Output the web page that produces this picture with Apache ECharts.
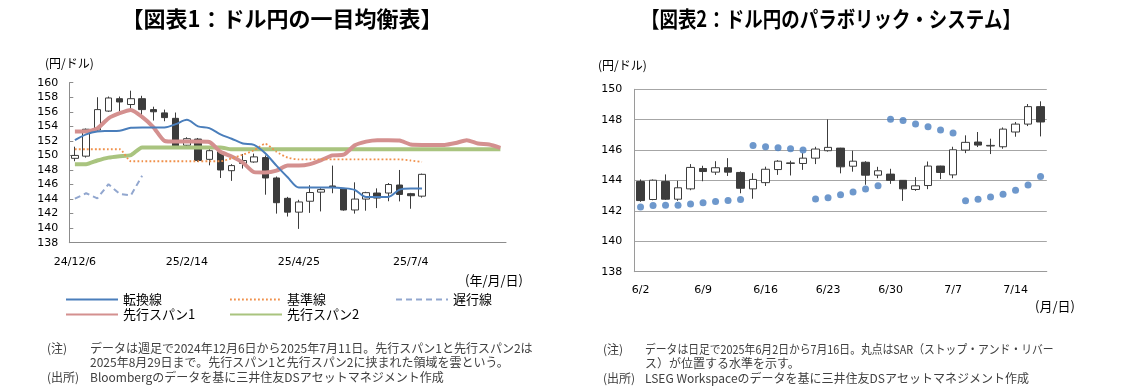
<!DOCTYPE html>
<html><head><meta charset="utf-8">
<script src="https://cdn.jsdelivr.net/npm/echarts@6/dist/echarts.min.js"></script>
<style>html,body{margin:0;padding:0;background:#fff}#c{width:1125px;height:392px}</style>
</head><body><div id="c"></div>
<script>
// ---------- Chart 1: weekly Ichimoku ----------
const weeks = ['24/12/6','24/12/13','24/12/20','24/12/27','25/1/3','25/1/10','25/1/17','25/1/24','25/1/31','25/2/7',
  '25/2/14','25/2/21','25/2/28','25/3/7','25/3/14','25/3/21','25/3/28','25/4/4','25/4/11','25/4/18',
  '25/4/25','25/5/2','25/5/9','25/5/16','25/5/23','25/5/30','25/6/6','25/6/13','25/6/20','25/6/27',
  '25/7/4','25/7/11','25/7/18','25/7/25','25/8/1','25/8/8','25/8/15','25/8/22','25/8/29'];
// [open, close, low, high]
const weeklyOHLC = [
  [149.6,150.0,149.2,151.2],[149.9,153.6,149.7,153.7],[153.5,156.3,153.3,158.0],[156.1,157.9,156.0,158.1],
  [157.8,157.35,156.1,158.1],[157.0,157.8,156.3,158.9],[157.8,156.3,155.1,158.2],[156.3,156.0,154.8,156.7],
  [155.85,155.2,154.7,156.3],[155.1,151.3,151.2,155.9],[151.4,152.3,151.2,152.5],[152.25,149.3,149.1,152.4],
  [149.46,150.65,148.64,150.93],[150.5,148.0,146.9,150.7],[147.9,148.6,146.5,148.8],[148.9,149.3,148.2,150.2],
  [149.1,149.8,149.0,150.25],[149.7,146.9,144.6,150.0],[146.9,143.5,142.0,147.1],[144.1,142.2,141.6,144.3],
  [142.2,143.6,139.9,143.9],[143.7,144.9,142.1,145.9],[144.95,145.3,142.3,145.5],[145.8,145.6,144.8,148.6],
  [145.4,142.5,142.4,145.5],[142.5,144.0,142.0,146.3],[144.0,144.88,142.4,145.0],[144.83,144.14,142.76,145.47],
  [144.83,146.0,143.7,146.2],[145.93,144.64,143.68,148.0],[144.74,144.46,142.67,144.85],[144.4,147.4,144.2,147.5]
];
const tenkan = [152.1,152.9,153.3,153.35,153.4,153.8,153.85,153.85,153.85,154.3,154.9,154.0,153.75,152.9,152.3,151.65,
  151.45,150.3,148.6,147.0,145.6,145.6,145.6,145.6,145.5,145.25,144.3,144.3,144.3,145.3,145.45,145.45];
const kijun = [150.85,150.85,150.85,150.85,150.85,149.2,149.2,149.2,149.2,149.2,149.2,149.2,149.2,149.2,149.6,150.1,
  150.7,151.6,150.5,149.7,149.45,149.45,149.45,149.45,149.45,149.45,149.45,149.45,149.45,149.45,149.3,149.1];
const chikou = [144.05,144.8,144.1,146.05,144.7,144.5,147.2];
const span1 = [153.3,153.3,153.7,155.1,155.8,156.25,155.3,153.9,152.0,151.9,151.9,151.9,151.85,150.5,149.85,149.0,
  147.7,147.65,147.9,148.6,148.6,148.8,149.35,150.0,150.1,151.4,151.9,152.1,152.1,152.05,151.5,151.45,
  151.45,151.45,151.7,152.1,151.65,151.5,151.05];
const span2 = [148.8,148.8,149.3,149.7,149.9,150.05,151.1,151.1,151.1,151.1,151.1,151.1,151.1,151.1,150.85,150.85,
  150.85,150.85,150.85,150.85,150.85,150.85,150.85,150.85,150.85,150.85,150.85,150.85,150.85,150.85,150.85,150.85,
  150.85,150.85,150.85,150.85,150.85,150.85,150.85];

// ---------- Chart 2: daily Parabolic SAR ----------
const days = ['6/2','6/3','6/4','6/5','6/6','6/9','6/10','6/11','6/12','6/13','6/16','6/17','6/18','6/19','6/20',
  '6/23','6/24','6/25','6/26','6/27','6/30','7/1','7/2','7/3','7/4','7/7','7/8','7/9','7/10','7/11','7/14','7/15','7/16'];
const dailyOHLC = [
  [143.93,142.68,142.6,144.07],[142.75,144.02,142.7,144.07],[143.93,142.77,142.72,144.4],[142.77,143.52,142.66,143.98],
  [143.45,144.86,143.36,145.08],[144.79,144.59,143.95,144.97],[144.55,144.84,144.37,145.27],[144.84,144.55,144.3,145.47],
  [144.53,143.49,143.16,144.6],[143.45,144.07,142.8,144.48],[143.86,144.74,143.64,144.91],[144.72,145.27,144.37,145.34],
  [145.12,145.16,144.33,145.3],[145.12,145.47,144.7,145.8],[145.47,146.07,145.08,146.22],[145.96,146.18,145.9,148.02],
  [146.13,144.9,144.47,146.15],[144.94,145.27,144.58,145.96],[145.2,144.35,143.72,145.27],[144.35,144.64,144.15,144.9],
  [144.42,144.01,143.78,144.77],[144.01,143.45,142.66,144.01],[143.41,143.65,143.32,144.22],[143.67,144.95,143.43,145.25],
  [144.95,144.53,144.09,144.97],[144.37,146.02,144.15,146.22],[146.0,146.51,145.8,146.97],[146.53,146.33,146.2,147.19],
  [146.27,146.31,145.74,146.75],[146.22,147.38,146.09,147.49],[147.19,147.71,146.88,147.85],[147.71,148.86,147.58,149.03],
  [148.86,147.85,146.9,149.21]
];
const sar = [142.26,142.35,142.37,142.37,142.46,142.53,142.62,142.68,142.75,146.3,146.22,146.16,146.09,146.01,
  142.78,142.86,143.06,143.24,143.44,143.66,148.03,147.95,147.72,147.53,147.33,147.13,
  142.66,142.77,142.92,143.1,143.36,143.71,144.26];

const AXF = "'DejaVu Sans', 'Noto Sans CJK JP'";
const JPF = "'Noto Sans CJK JP'";
const candleStyle = {color:'#ffffff', color0:'#3c3c3c', borderColor:'#3c3c3c', borderColor0:'#3c3c3c', borderWidth:1};

const chart = echarts.init(document.getElementById('c'), null, {renderer:'canvas'});
function txt(x, y, s, size, opts) {
  opts = opts || {};
  return {type:'text', x:x, y:y, scaleX:opts.sx||1, originX:0, originY:0,
    style:{text:s, font:(opts.bold?'bold ':'') + size + 'px ' + JPF,
    fill:opts.fill||'#000', textAlign:opts.align||'left', textVerticalAlign:'middle'}};
}
function leg(name, left, top) {
  return {data:[name], left:left, top:top, itemWidth:52, itemHeight:12,
    itemStyle:{opacity:0}, textStyle:{fontFamily:JPF, fontSize:13, color:'#000'}};
}
const option = {
  animation:false,
  grid:[
    {left:69.3, top:82.7, width:436.7, height:160},
    {left:634.3, top:89.3, width:412.5, height:182.4}
  ],
  xAxis:[
    {type:'category', gridIndex:0, data:weeks, boundaryGap:true,
     axisLine:{lineStyle:{color:'#8c8c8c'}},
     axisTick:{inside:true, length:4, interval:0, lineStyle:{color:'#8c8c8c'}},
     axisLabel:{interval:9, color:'#000', fontFamily:AXF, fontSize:11, margin:14}},
    {type:'category', gridIndex:1, data:days, boundaryGap:true,
     axisLine:{lineStyle:{color:'#9a9a9a'}},
     axisTick:{inside:false, length:4, interval:4, lineStyle:{color:'#9a9a9a'}},
     axisLabel:{interval:4, color:'#000', fontFamily:AXF, fontSize:11, margin:13}}
  ],
  yAxis:[
    {type:'value', gridIndex:0, min:138, max:160, interval:2,
     axisLine:{show:true, lineStyle:{color:'#8c8c8c'}},
     axisTick:{show:true, inside:true, length:4, lineStyle:{color:'#8c8c8c'}},
     splitLine:{show:false},
     axisLabel:{color:'#000', fontFamily:AXF, fontSize:11, margin:11}},
    {type:'value', gridIndex:1, min:138, max:150, interval:2,
     axisLine:{show:true, lineStyle:{color:'#9a9a9a'}},
     axisTick:{show:false},
     splitLine:{show:true, lineStyle:{color:'#a6a6a6', width:1}},
     axisLabel:{color:'#000', fontFamily:AXF, fontSize:11, margin:12}}
  ],
  legend:[
    leg('転換線', 60, 288), leg('基準線', 224, 288), leg('遅行線', 390, 288),
    leg('先行スパン1', 60, 303), leg('先行スパン2', 224, 303)
  ],
  series:[
    {name:'週足', type:'candlestick', xAxisIndex:0, yAxisIndex:0, data:weeklyOHLC, barWidth:7, itemStyle:candleStyle},
    {name:'先行スパン2', type:'line', xAxisIndex:0, yAxisIndex:0, data:span2, symbol:'none', smooth:0.2,
     lineStyle:{color:'#a9c47f', width:4}, itemStyle:{color:'#a9c47f'}},
    {name:'先行スパン1', type:'line', xAxisIndex:0, yAxisIndex:0, data:span1, symbol:'none', smooth:0.2,
     lineStyle:{color:'#d4908f', width:4}, itemStyle:{color:'#d4908f'}},
    {name:'基準線', type:'line', xAxisIndex:0, yAxisIndex:0, data:kijun, symbol:'none', smooth:0.2,
     lineStyle:{color:'#f0904a', width:1.8, type:[1.8,2.2]}, itemStyle:{color:'#f0904a'}},
    {name:'転換線', type:'line', xAxisIndex:0, yAxisIndex:0, data:tenkan, symbol:'none', smooth:0.3,
     lineStyle:{color:'#4a7ebb', width:2}, itemStyle:{color:'#4a7ebb'}},
    {name:'遅行線', type:'line', xAxisIndex:0, yAxisIndex:0, data:chikou, symbol:'none',
     lineStyle:{color:'#92a7cf', width:2, type:[6,4]}, itemStyle:{color:'#92a7cf'}},
    {name:'日足', type:'candlestick', xAxisIndex:1, yAxisIndex:1, data:dailyOHLC, barWidth:8, itemStyle:candleStyle},
    {name:'SAR', type:'scatter', xAxisIndex:1, yAxisIndex:1, data:sar, symbol:'circle', symbolSize:7,
     itemStyle:{color:'#4a7ebf'}}
  ],
  graphic:[
    txt(282, 19, '【図表1：ドル円の一目均衡表】', 22, {bold:true, align:'center'}),
    txt(831, 19, '【図表2：ドル円のパラボリック・システム】', 22, {bold:true, align:'center', sx:0.84}),
    txt(45, 63, '(円/ドル)', 12),
    txt(598, 65, '(円/ドル)', 12),
    txt(523, 280, '(年/月/日)', 13, {align:'right'}),
    txt(1075, 306, '(月/日)', 13, {align:'right'}),
    txt(47, 348, '(注)', 12, {fill:'#404040'}),
    txt(90, 348, 'データは週足で2024年12月6日から2025年7月11日。先行スパン1と先行スパン2は', 12, {fill:'#404040'}),
    txt(90, 362, '2025年8月29日まで。先行スパン1と先行スパン2に挟まれた領域を雲という。', 12, {fill:'#404040'}),
    txt(47, 377, '(出所)', 12, {fill:'#404040'}),
    txt(90, 377, 'Bloombergのデータを基に三井住友DSアセットマネジメント作成', 12, {fill:'#404040'}),
    txt(603, 349, '(注)', 12, {fill:'#404040'}),
    txt(645, 349, 'データは日足で2025年6月2日から7月16日。丸点はSAR（ストップ・アンド・リバー', 12, {fill:'#404040', sx:0.9}),
    txt(645, 363, 'ス）が位置する水準を示す。', 12, {fill:'#404040'}),
    txt(603, 378, '(出所)', 12, {fill:'#404040'}),
    txt(645, 378, 'LSEG Workspaceのデータを基に三井住友DSアセットマネジメント作成', 12, {fill:'#404040'})
  ]
};
chart.setOption(option);
</script></body></html>
